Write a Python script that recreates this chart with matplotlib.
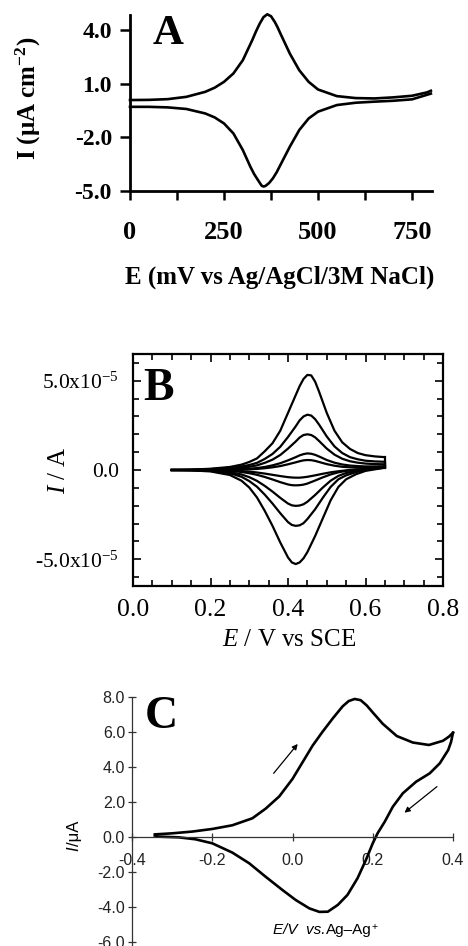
import matplotlib
matplotlib.use("Agg")
import matplotlib.pyplot as plt

plt.rcParams['font.family'] = ['Liberation Serif', 'DejaVu Serif']
plt.rcParams['mathtext.fontset'] = 'custom'
plt.rcParams['mathtext.rm'] = 'Liberation Serif'
plt.rcParams['mathtext.it'] = 'Liberation Serif:italic'
plt.rcParams['mathtext.default'] = 'regular'

W, H = 468, 946
SANS = ['Liberation Sans', 'DejaVu Sans']

# ---- panel A : E in mV, I in uA cm-2
E_A_fwd = [0, 50, 100, 150, 200, 225, 250, 275, 300, 325, 335, 345, 355, 365, 375, 385, 392,
           400, 425, 450, 475, 500, 550, 600, 650, 700, 750, 790, 800]
I_A_fwd = [0.09, 0.10, 0.14, 0.27, 0.55, 0.78, 1.11, 1.58, 2.32, 3.44, 3.93, 4.37, 4.73, 4.89, 4.78,
           4.46, 4.18, 3.81, 2.69, 1.76, 1.11, 0.68, 0.31, 0.20, 0.18, 0.24, 0.33, 0.52, 0.61]
E_A_rev = [800, 750, 700, 650, 600, 550, 500, 475, 450, 425, 400, 390, 380, 370, 360, 355, 350,
           340, 330, 320, 300, 275, 250, 225, 200, 150, 100, 50, 0]
I_A_rev = [0.45, 0.13, 0.05, 0.0, -0.06, -0.19, -0.56, -0.94, -1.59, -2.52, -3.54, -3.95, -4.29,
           -4.55, -4.72, -4.75, -4.70, -4.38, -4.05, -3.64, -2.71, -1.78, -1.22, -0.88, -0.66,
           -0.41, -0.32, -0.29, -0.29]
A_yticks = [-5, -2, 1, 4]
A_ylabels = ['-5.0', '-2.0', '1.0', '4.0']
A_xticks = [0, 250, 500, 750]
A_xlabels = ['0', '250', '500', '750']
A_xminor = [125, 375, 625]

# ---- panel B : E in V, I in units of 1e-5 A, five scan rates
E_B_fwd = [0.10, 0.15, 0.20, 0.25, 0.28, 0.30, 0.32, 0.34, 0.36, 0.38, 0.40, 0.42, 0.43, 0.44,
           0.45, 0.46, 0.47, 0.48, 0.50, 0.52, 0.54, 0.56, 0.58, 0.60, 0.625, 0.65]
I_B_fwd = [
    [0.00, 0.02, 0.07, 0.17, 0.30, 0.45, 0.65, 1.05, 1.50, 2.20, 3.20, 4.20, 4.70, 5.10, 5.33,
     5.30, 4.95, 4.40, 3.20, 2.20, 1.55, 1.18, 0.95, 0.83, 0.76, 0.72],
    [0.00, 0.01, 0.05, 0.12, 0.20, 0.28, 0.40, 0.62, 0.90, 1.30, 1.85, 2.45, 2.78, 3.00, 3.10,
     3.05, 2.85, 2.55, 1.88, 1.32, 0.95, 0.72, 0.60, 0.52, 0.48, 0.46],
    [0.00, 0.01, 0.03, 0.08, 0.13, 0.18, 0.26, 0.40, 0.58, 0.84, 1.20, 1.60, 1.82, 1.96, 2.00,
     1.96, 1.83, 1.63, 1.20, 0.86, 0.63, 0.49, 0.41, 0.36, 0.33, 0.32],
    [0.00, 0.00, 0.01, 0.03, 0.05, 0.07, 0.11, 0.17, 0.26, 0.38, 0.54, 0.72, 0.82, 0.89, 0.93,
     0.91, 0.85, 0.76, 0.56, 0.41, 0.31, 0.25, 0.22, 0.20, 0.20, 0.21],
    [0.00, 0.00, 0.01, 0.02, 0.03, 0.04, 0.06, 0.10, 0.15, 0.22, 0.32, 0.43, 0.49, 0.54, 0.56,
     0.55, 0.51, 0.45, 0.33, 0.24, 0.18, 0.15, 0.13, 0.12, 0.12, 0.13],
]
E_B_rev = [0.65, 0.60, 0.575, 0.55, 0.53, 0.51, 0.49, 0.47, 0.45, 0.44, 0.43, 0.42, 0.41, 0.40,
           0.38, 0.36, 0.34, 0.32, 0.30, 0.28, 0.25, 0.20, 0.15, 0.10]
I_B_rev = [
    [0.13, -0.05, -0.24, -0.52, -0.95, -1.70, -2.70, -3.70, -4.60, -4.95, -5.18, -5.27, -5.18,
     -4.90, -4.06, -3.13, -2.29, -1.54, -0.98, -0.60, -0.28, -0.08, -0.02, 0.00],
    [0.15, 0.00, -0.12, -0.30, -0.52, -0.95, -1.55, -2.20, -2.75, -2.98, -3.10, -3.13, -3.08,
     -2.92, -2.42, -1.88, -1.38, -0.94, -0.62, -0.38, -0.18, -0.05, -0.01, 0.00],
    [0.18, 0.04, -0.05, -0.17, -0.33, -0.60, -0.98, -1.40, -1.78, -1.92, -1.99, -2.01, -1.98,
     -1.88, -1.56, -1.21, -0.89, -0.61, -0.40, -0.25, -0.12, -0.03, -0.01, 0.00],
    [0.15, 0.06, 0.01, -0.05, -0.13, -0.25, -0.41, -0.59, -0.76, -0.82, -0.85, -0.86, -0.85,
     -0.81, -0.68, -0.53, -0.39, -0.27, -0.18, -0.11, -0.05, -0.01, 0.00, 0.00],
    [0.12, 0.05, 0.02, -0.02, -0.07, -0.13, -0.21, -0.30, -0.38, -0.41, -0.43, -0.43, -0.42,
     -0.40, -0.34, -0.27, -0.20, -0.14, -0.09, -0.06, -0.03, -0.01, 0.00, 0.00],
]
B_xticks = [0.0, 0.2, 0.4, 0.6, 0.8]
B_xlabels = ['0.0', '0.2', '0.4', '0.6', '0.8']
B_yticks = [-5e-5, 0.0, 5e-5]
B_ylabels = ['-5.0x10$^{-5}$', '0.0', '5.0x10$^{-5}$']

# ---- panel C : E in V, I in uA
E_C_fwd = [-0.343, -0.30, -0.25, -0.20, -0.15, -0.10, -0.067, -0.033, 0.0, 0.025, 0.05, 0.075,
           0.10, 0.125, 0.14, 0.155, 0.17, 0.185, 0.20, 0.225, 0.26, 0.30, 0.34, 0.375, 0.39,
           0.40]
I_C_fwd = [0.13, 0.19, 0.29, 0.44, 0.65, 1.05, 1.60, 2.30, 3.30, 4.25, 5.20, 6.00, 6.75, 7.45,
           7.75, 7.87, 7.80, 7.50, 7.10, 6.45, 5.75, 5.38, 5.24, 5.48, 5.72, 5.94]
E_C_rev = [0.40, 0.395, 0.388, 0.367, 0.342, 0.308, 0.275, 0.25, 0.23, 0.212, 0.20, 0.183, 0.162,
           0.137, 0.113, 0.088, 0.067, 0.042, 0.008, -0.025, -0.067, -0.108, -0.15, -0.20,
           -0.242, -0.283, -0.333, -0.343]
I_C_rev = [5.94, 5.40, 4.95, 4.19, 3.62, 3.14, 2.48, 1.71, 0.86, 0.19, -0.38, -1.33, -2.38,
           -3.33, -3.90, -4.29, -4.30, -4.10, -3.62, -3.05, -2.29, -1.52, -0.91, -0.38, -0.15,
           -0.04, 0.00, 0.06]
C_xticks = [-0.4, -0.2, 0.0, 0.2, 0.4]
C_xlabels = ['-0.4', '-0.2', '0.0', '0.2', '0.4']
C_yticks = [-6, -4, -2, 0, 2, 4, 6, 8]
C_ylabels = ['-6.0', '-4.0', '-2.0', '0.0', '2.0', '4.0', '6.0', '8.0']


def fx(px):
    return px / W


def fy(py):
    return 1 - py / H


fig = plt.figure(figsize=(W / 100, H / 100), dpi=100)

# ================= A
axA = fig.add_axes([fx(130), fy(191), 302 / W, 176 / H])
axA.plot(E_A_fwd, I_A_fwd, color='k', lw=1.9, clip_on=False)
axA.plot(E_A_rev, I_A_rev, color='k', lw=1.9, clip_on=False)
axA.set_xlim(0, 803)
axA.set_ylim(-5, 4.85)
for s in ['top', 'right']:
    axA.spines[s].set_visible(False)
for s in ['left', 'bottom']:
    axA.spines[s].set_linewidth(2.0)
axA.set_yticks(A_yticks, A_ylabels, fontsize=17, fontweight='bold')
axA.set_xticks(A_xticks, A_xlabels, fontsize=19, fontweight='bold')
axA.set_xticks(A_xminor, minor=True)
axA.tick_params(axis='y', direction='out', length=7, width=1.8, pad=6)
axA.tick_params(axis='x', which='both', direction='out', length=6.5, width=1.8, pad=15)

fig.text(fx(168), fy(34), 'A', fontsize=31, fontweight='bold', ha='center', va='center')
fig.text(fx(28), fy(98), 'I (μA cm$^{-2}$)', rotation=90, fontsize=18, fontweight='bold',
         ha='center', va='center')
fig.text(fx(280), fy(277), 'E (mV vs Ag/AgCl/3M NaCl)', fontsize=18, fontweight='bold',
         ha='center', va='center')

# ================= B
axB = fig.add_axes([fx(133), fy(586), 310 / W, 232 / H])
for fwd, rev in zip(I_B_fwd, I_B_rev):
    axB.plot(E_B_fwd, [v * 1e-5 for v in fwd], color='k', lw=1.6)
    axB.plot(E_B_rev, [v * 1e-5 for v in rev], color='k', lw=1.6)
    axB.plot([E_B_fwd[-1], E_B_rev[0]], [fwd[-1] * 1e-5, rev[0] * 1e-5], color='k', lw=1.6)
axB.set_xlim(0, 0.8)
axB.set_ylim(-6.5e-5, 6.5e-5)
for s in axB.spines.values():
    s.set_linewidth(1.6)
axB.set_xticks(B_xticks, B_xlabels, fontsize=18.5)
axB.set_yticks(B_yticks, B_ylabels, fontsize=15.5)
axB.xaxis.set_minor_locator(plt.MultipleLocator(0.05))
axB.yaxis.set_minor_locator(plt.MultipleLocator(1e-5))
axB.tick_params(which='both', direction='in', top=True, right=True, width=1.2)
axB.tick_params(which='major', length=6)
axB.tick_params(which='minor', length=4)
axB.tick_params(axis='x', pad=9)
axB.tick_params(axis='y', pad=10)

fig.text(fx(158), fy(389), 'B', fontsize=33, fontweight='bold', ha='center', va='center')
fig.text(fx(59), fy(470), r'$\mathit{I}$ / A', rotation=90, fontsize=18,
         ha='center', va='center')
fig.text(fx(289), fy(640), r'$\mathit{E}$ / V vs SCE', fontsize=18, ha='center', va='center')

# ================= C
axC = fig.add_axes([fx(132), 0, 321 / W, (H - 696.7) / H])
axC.plot(E_C_fwd, I_C_fwd, color='k', lw=1.9, clip_on=False)
axC.plot(E_C_rev, I_C_rev, color='k', lw=1.9, clip_on=False)
axC.set_xlim(-0.4, 0.4)
axC.set_ylim(-6.25, 8.0)
for s in ['top', 'right']:
    axC.spines[s].set_visible(False)
axC.spines['bottom'].set_position(('data', 0))
for s in ['left', 'bottom']:
    axC.spines[s].set_linewidth(0.9)
    axC.spines[s].set_color('#333333')
axC.set_xticks(C_xticks, C_xlabels, fontsize=11.5, family=SANS)
axC.set_yticks(C_yticks, C_ylabels, fontsize=11.5, family=SANS)
axC.tick_params(direction='inout', length=6, width=0.9, color='#333333', labelcolor='#222222')
axC.tick_params(axis='x', pad=9)
axC.tick_params(axis='y', pad=2)

arrow = dict(arrowstyle='-|>', lw=0.9, color='k', mutation_scale=8, shrinkA=0, shrinkB=0)
axC.annotate('', xy=(0.013, 5.3), xytext=(-0.047, 3.62), arrowprops=arrow)
axC.annotate('', xy=(0.279, 1.37), xytext=(0.36, 2.86), arrowprops=arrow)

fig.text(fx(161), fy(717), 'C', fontsize=33, fontweight='bold', ha='center', va='center')
tI = fig.text(fx(74), fy(851), 'I', rotation=90, fontsize=12, family=SANS, style='italic',
              ha='center', va='bottom')
axC.annotate('/μA', xy=(0.5, 1), xycoords=tI, rotation=90, fontsize=12, family=SANS,
             ha='center', va='bottom', annotation_clip=False)
tE = fig.text(fx(273), fy(937), 'E/V  vs.', fontsize=11, family=SANS, style='italic',
              ha='left', va='bottom')
tAg = axC.annotate('Ag–Ag', xy=(1, 0), xycoords=tE, fontsize=11, family=SANS,
                   ha='left', va='bottom', annotation_clip=False)
axC.annotate('+', xy=(1, 1), xycoords=tAg, xytext=(0.5, 1), textcoords='offset points',
             fontsize=7.5, family=SANS, ha='left', va='top', annotation_clip=False)

fig.savefig('out.png', dpi=100)
